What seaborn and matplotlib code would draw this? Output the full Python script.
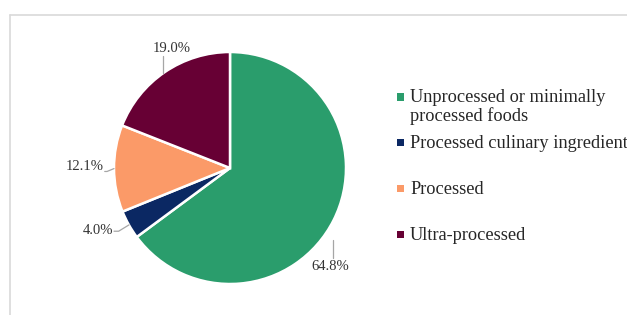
import matplotlib
matplotlib.use("Agg")
import matplotlib.pyplot as plt
import seaborn as sns
import numpy as np
from matplotlib.lines import Line2D
from matplotlib.patches import Rectangle

categories = ["Unprocessed or minimally\nprocessed foods",
              "Processed culinary ingredients",
              "Processed",
              "Ultra-processed"]
values = [64.8, 4.0, 12.1, 19.0]
pct_labels = ["64.8%", "4.0%", "12.1%", "19.0%"]
colors = ["#2a9d6c", "#0b2863", "#fb9a68", "#670034"]

sns.set_theme(style="white")
plt.rcParams['font.family'] = ['Liberation Serif', 'DejaVu Serif']

W, H = 627, 315
fig = plt.figure(figsize=(W / 100, H / 100), dpi=100)
fig.patch.set_facecolor("white")

# chart frame (light gray)
frame_col = "#d9d9d9"
fig.add_artist(Line2D([10 / W, 10 / W], [0, 1 - 15 / H], color=frame_col, lw=1.2,
                      transform=fig.transFigure))
fig.add_artist(Line2D([10 / W, 1], [1 - 15 / H, 1 - 15 / H], color=frame_col, lw=1.2,
                      transform=fig.transFigure))

cx, cy, r = 230, 168, 116
half = 1.45
s = half * r
ax = fig.add_axes([(cx - s) / W, (H - cy - s) / H, 2 * s / W, 2 * s / H])
wedges, _ = ax.pie(values, colors=colors, startangle=90, counterclock=False,
                   radius=1, wedgeprops=dict(edgecolor="white", linewidth=1.8))
ax.set_xlim(-half, half)
ax.set_ylim(-half, half)
ax.set_aspect("equal")
ax.axis("off")

# data label layout: text position, alignment, leader line points
layout = [
    dict(t=(0.86, -0.79), ha="center", va="top", line=[(0.888, -0.62), (0.888, -0.775)]),
    dict(t=(-1.01, -0.535), ha="right", va="center", line=[(-0.87, -0.49), (-0.96, -0.545), (-1.0, -0.545)]),
    dict(t=(-1.09, 0.01), ha="right", va="center", line=[(-1.0, -0.005), (-1.06, -0.03), (-1.08, -0.03)]),
    dict(t=(-0.50, 0.975), ha="center", va="bottom", line=[(-0.578, 0.82), (-0.578, 0.965)]),
]
line_col = "#a6a6a6"
for lab, lay in zip(pct_labels, layout):
    xs, ys = zip(*lay["line"])
    ax.plot(xs, ys, color=line_col, lw=0.9, clip_on=False)
    ax.text(lay["t"][0], lay["t"][1], lab, ha=lay["ha"], va=lay["va"],
            fontsize=10.5, color="#333333", clip_on=False)

# legend (manual, to keep handle on first line)
y0, dy, line_h = 97, 45.7, 18
mx, msz, tx = 400, 7, 410
for i, (cat, col) in enumerate(zip(categories, colors)):
    y = y0 + i * dy
    fig.add_artist(Rectangle(((mx - msz / 2) / W, 1 - (y + msz / 2) / H), msz / W, msz / H,
                             facecolor=col, edgecolor="none", transform=fig.transFigure))
    for j, line in enumerate(cat.split("\n")):
        fig.text(tx / W, 1 - (y + 1 + j * line_h) / H, line, ha="left", va="center",
                 fontsize=13.2, color="#262626")

fig.savefig("out.png", dpi=100, facecolor="white")
